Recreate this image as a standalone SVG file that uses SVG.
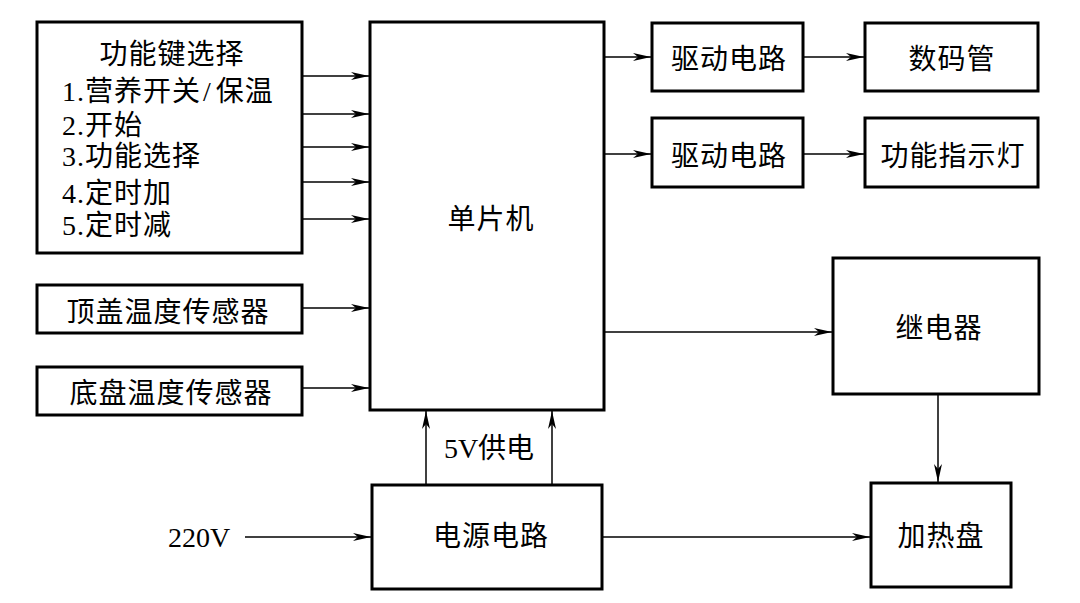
<svg xmlns="http://www.w3.org/2000/svg" width="1080" height="603" viewBox="0 0 1080 603">
<style>
.box{fill:#fff;stroke:#000;stroke-width:3}
.ln{fill:none;stroke:#000;stroke-width:1.5;marker-end:url(#ah)}
text{font-family:"Liberation Serif","Noto Sans CJK SC",serif;font-size:28px;fill:#000;letter-spacing:1px}
.c{text-anchor:middle}
</style>
<defs>
<marker id="ah" markerUnits="userSpaceOnUse" markerWidth="20" markerHeight="10" refX="18" refY="5" orient="auto">
<path d="M0,1 L18,5 L0,9 L5,5 z" fill="#000"/>
</marker>
</defs>
<rect width="1080" height="603" fill="#fff"/>
<g id="keys">
<rect class="box" x="37" y="22" width="265" height="231"/>
<text class="c" x="172" y="64">功能键选择</text>
<text x="62" y="101">1.营养开关<tspan dx="2">/</tspan><tspan dx="4">保温</tspan></text>
<text x="62" y="135">2.开始</text>
<text x="62" y="166">3.功能选择</text>
<text x="62" y="203">4.定时加</text>
<text x="62" y="235">5.定时减</text>
</g>
<g id="topsensor">
<rect class="box" x="37" y="285" width="265" height="48"/>
<text class="c" x="168" y="322">顶盖温度传感器</text>
</g>
<g id="botsensor">
<rect class="box" x="37" y="367" width="265" height="48"/>
<text class="c" x="171" y="403">底盘温度传感器</text>
</g>
<g id="mcu">
<rect class="box" x="370" y="22" width="234" height="388"/>
<text class="c" x="491" y="229">单片机</text>
</g>
<g id="drv1">
<rect class="box" x="652" y="23" width="151" height="68"/>
<text class="c" x="729" y="69">驱动电路</text>
</g>
<g id="seg">
<rect class="box" x="865" y="23" width="173" height="68"/>
<text class="c" x="952" y="69">数码管</text>
</g>
<g id="drv2">
<rect class="box" x="652" y="118" width="151" height="69"/>
<text class="c" x="729" y="166">驱动电路</text>
</g>
<g id="led">
<rect class="box" x="865" y="118" width="173" height="69"/>
<text class="c" x="953" y="166">功能指示灯</text>
</g>
<g id="relay">
<rect class="box" x="833" y="258" width="206" height="136"/>
<text class="c" x="939" y="338">继电器</text>
</g>
<g id="heater">
<rect class="box" x="871" y="483" width="140" height="104"/>
<text class="c" x="941" y="546">加热盘</text>
</g>
<g id="power">
<rect class="box" x="372" y="485" width="230" height="104"/>
<text class="c" x="491" y="546">电源电路</text>
</g>
<g id="labels">
<text x="168" y="547" style="letter-spacing:0">220V</text>
<text class="c" x="489" y="458" style="letter-spacing:0">5V供电</text>
</g>
<g id="connectors">
<line class="ln" x1="303" y1="76" x2="369" y2="76"/>
<line class="ln" x1="303" y1="114" x2="369" y2="114"/>
<line class="ln" x1="303" y1="147" x2="369" y2="147"/>
<line class="ln" x1="303" y1="182" x2="369" y2="182"/>
<line class="ln" x1="303" y1="219" x2="369" y2="219"/>
<line class="ln" x1="303" y1="308" x2="369" y2="308"/>
<line class="ln" x1="303" y1="388" x2="369" y2="388"/>
<line class="ln" x1="605" y1="57" x2="651" y2="57"/>
<line class="ln" x1="804" y1="57" x2="864" y2="57"/>
<line class="ln" x1="605" y1="154" x2="651" y2="154"/>
<line class="ln" x1="804" y1="154" x2="864" y2="154"/>
<line class="ln" x1="605" y1="332" x2="832" y2="332"/>
<line class="ln" x1="938" y1="395" x2="938" y2="482"/>
<line class="ln" x1="603" y1="537" x2="870" y2="537"/>
<line class="ln" x1="245" y1="537" x2="371" y2="537"/>
<line class="ln" x1="426" y1="484" x2="426" y2="411"/>
<line class="ln" x1="552" y1="484" x2="552" y2="411"/>
</g>
</svg>
